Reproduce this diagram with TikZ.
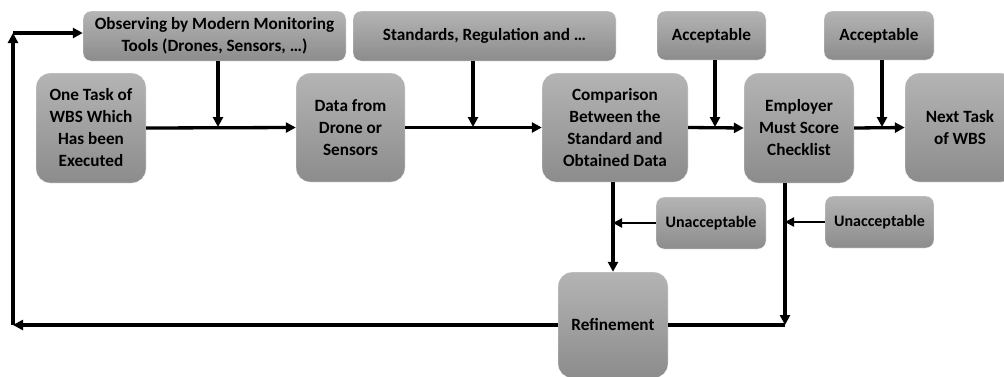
\documentclass[tikz,border=0pt]{standalone}
\usepackage{fontspec}
\setmainfont{Carlito}
\usepackage{tikz}
\usetikzlibrary{positioning}
\usetikzlibrary{calc}
\usetikzlibrary{arrows.meta}
\definecolor{boxtop}{HTML}{B4B4B4}
\definecolor{boxbot}{HTML}{8C8C8C}
\tikzset{
	flowbox/.style={rounded corners=14pt, top color=boxtop, bottom color=boxbot,
		draw=white, align=center, inner sep=2pt,
		font=\fontsize{17.2}{22}\selectfont\bfseries},
	tagbox/.style={flowbox, rounded corners=8pt},
	flow/.style={line width=3.3pt, -{Triangle[length=10pt,width=10pt]}},
	thinflow/.style={line width=2.4pt, -{Triangle[length=9pt,width=9pt]}}
}

\begin{document}
\begin{tikzpicture}[x=1pt, y=-1pt]
	\useasboundingbox (0,0) rectangle (1004,376);
	\clip (0,0) rectangle (1004,376);
	
	% Row 1
	\node [tagbox, minimum width=263pt, minimum height=50pt] at (214.5,36) (1Obs) {Observing by Modern Monitoring\\Tools (Drones, Sensors, …)};
	\node [tagbox, minimum width=263pt, minimum height=50pt] at (484.5,36) (1Std) {Standards, Regulation and …};
	\node [tagbox, minimum width=109pt, minimum height=49pt] at (711.5,35.5) (1Acc) {Acceptable};
	\node [tagbox, minimum width=110pt, minimum height=49pt] at (879,35.5) (1Acc2) {Acceptable};
	
	% Row 2
	\node [flowbox, minimum width=110pt, minimum height=110pt] at (91,128) (2Task) {One Task of\\WBS Which\\Has been\\Executed};
	\node [flowbox, minimum width=109pt, minimum height=109pt] at (350.5,127.5) (2Data) {Data from\\Drone or\\Sensors};
	\node [flowbox, minimum width=146pt, minimum height=109pt] at (615,127.5) (2Comp) {Comparison\\Between the\\Standard and\\Obtained Data};
	\node [flowbox, minimum width=110pt, minimum height=110pt] at (799,128) (2Emp) {Employer\\Must Score\\Checklist};
	\node [flowbox, minimum width=110pt, minimum height=109pt] at (960,127.5) (2Next) {Next Task\\of WBS};
	
	% Row 3
	\node [tagbox, font=\fontsize{16}{20}\selectfont\bfseries, minimum width=110pt, minimum height=52pt] at (711,223) (3Unacc) {Unacceptable};
	\node [tagbox, font=\fontsize{16}{20}\selectfont\bfseries, minimum width=109pt, minimum height=52pt] at (879.5,222) (3Unacc2) {Unacceptable};
	
	% Row 4
	\node [flowbox, minimum width=110pt, minimum height=106pt] at (613,325) (4Ref) {Refinement};
	
	% Corners of the loops
	\coordinate (cRight) at (785,325);
	\coordinate (cLow) at (13,325);
	\coordinate (cHigh) at (13,33);
	
	% Connections
	\draw [flow] (node cs:name=2Task, anchor=east) -- (node cs:name=2Data, anchor=west);
	\draw [flow] (node cs:name=2Data, anchor=east) -- (node cs:name=2Comp, anchor=west);
	\draw [flow] (node cs:name=2Comp, anchor=east) -- (node cs:name=2Emp, anchor=west);
	\draw [flow] (node cs:name=2Emp, anchor=east) -- (node cs:name=2Next, anchor=west);
	\draw [flow] (218,0 |- 1Obs.south) -- (218,127);
	\draw [flow] (473,0 |- 1Std.south) -- (473,127);
	\draw [flow] (715,0 |- 1Acc.south) -- (715,127);
	\draw [flow] (882,0 |- 1Acc2.south) -- (882,127);
	\draw [flow] (4Ref.north |- 2Comp.south) -- (4Ref.north);
	\draw [thinflow] (3Unacc.west) -- (3Unacc.west -| 4Ref.north);
	\draw [flow] (cRight |- 2Emp.south) -- (cRight);
	\draw [thinflow] (3Unacc2.west) -- (3Unacc2.west -| cRight);
	\draw [line width=3.3pt] (4Ref.east) -- (cRight);
	\draw [flow] (4Ref.west) -- (cLow);
	\draw [flow] (cLow) -- (cHigh);
	\draw [flow] (cHigh) -- (cHigh -| 1Obs.west);
	
\end{tikzpicture}
\end{document}
